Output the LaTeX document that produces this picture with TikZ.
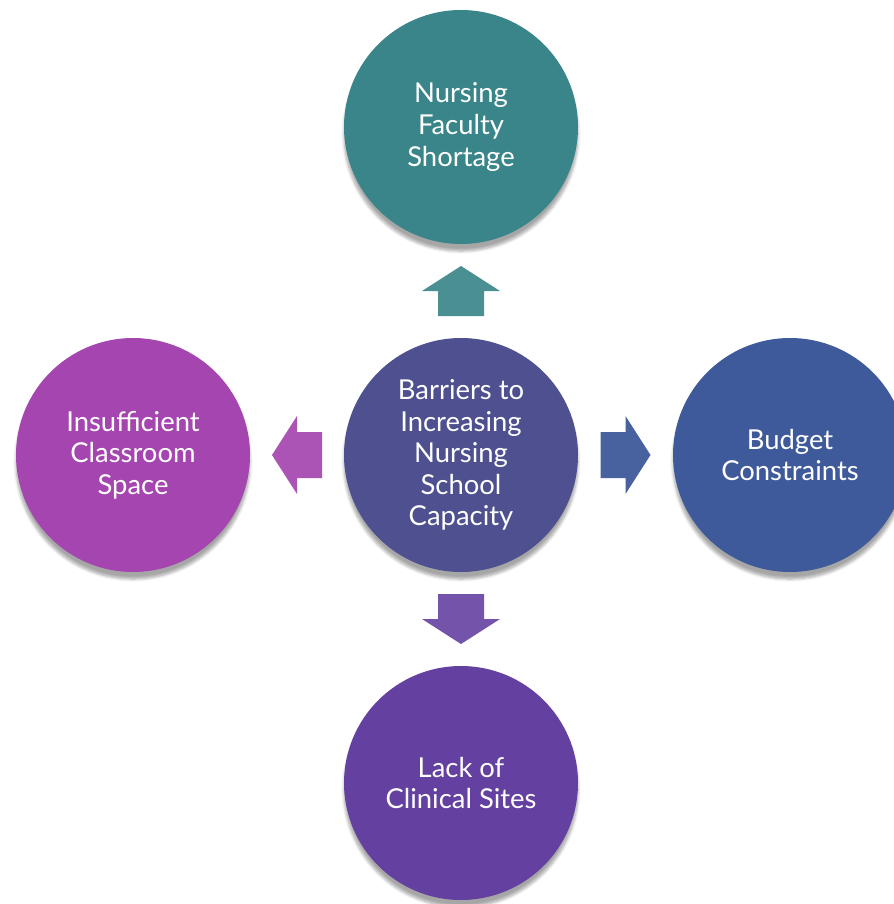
\documentclass[tikz,border=0pt]{standalone}
\usepackage{fontspec}
\setmainfont{Lato}
\usetikzlibrary{calc,shadows.blur}

\definecolor{facultyteal}{HTML}{3A8589}
\definecolor{hubslate}{HTML}{4E5090}
\definecolor{spacemagenta}{HTML}{A445B0}
\definecolor{budgetblue}{HTML}{3E5A9A}
\definecolor{sitespurple}{HTML}{6440A0}

\tikzset{
  blockarrow/.pic={
    \fill[pic actions] (-0.625,-0.575) -- (0,-0.575) -- (0,-0.975) -- (0.625,0)
      -- (0,0.975) -- (0,0.575) -- (-0.625,0.575) -- cycle;
  }
}

\begin{document}
\begin{tikzpicture}[
    barrier/.style={circle, minimum size=5.85cm, inner sep=0pt, text=white,
      align=center, font=\fontsize{19.5}{22.5}\selectfont,
      blur shadow={shadow xshift=0pt, shadow yshift=-5pt, shadow blur steps=6, shadow opacity=35}}
  ]
  \useasboundingbox (0,0) rectangle (22.35,-22.6);

  % Centre
  \node[barrier, fill=hubslate] (hub) at (11.525,-11.375)
    {Barriers to\\Increasing\\Nursing\\School\\Capacity};

  % Barriers
  \node[barrier, fill=facultyteal] (faculty) at (11.525,-3.175)
    {Nursing\\Faculty\\Shortage};
  \node[barrier, fill=spacemagenta] (space) at (3.325,-11.375)
    {Insufficient\\Classroom\\Space};
  \node[barrier, fill=budgetblue] (budget) at (19.75,-11.375)
    {Budget\\Constraints};
  \node[barrier, fill=sitespurple] (sites) at (11.525,-19.575)
    {Lack of\\Clinical Sites};

  % Arrows
  \coordinate (upmid) at ($(hub.north)!0.5!(faculty.south)$);
  \coordinate (leftmid) at ($(hub.west)!0.5!(space.east)$);
  \coordinate (rightmid) at ($(hub.east)!0.5!(budget.west)$);
  \coordinate (downmid) at ($(hub.south)!0.5!(sites.north)$);

  \pic[fill=facultyteal!92!white, rotate=90] at (upmid) {blockarrow};
  \pic[fill=spacemagenta!92!white, rotate=180] at (leftmid) {blockarrow};
  \pic[fill=budgetblue!95!white] at (rightmid) {blockarrow};
  \pic[fill=sitespurple!90!white, rotate=-90] at (downmid) {blockarrow};
\end{tikzpicture}
\end{document}
